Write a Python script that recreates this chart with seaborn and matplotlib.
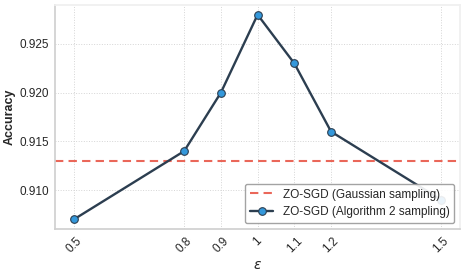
import matplotlib
matplotlib.use("Agg")
import matplotlib.pyplot as plt
import seaborn as sns
import pandas as pd

# data
eps = [0.5, 0.8, 0.9, 1.0, 1.1, 1.2, 1.5]
eps_labels = ["0.5", "0.8", "0.9", "1", "1.1", "1.2", "1.5"]
acc_alg2 = [0.907, 0.914, 0.920, 0.928, 0.923, 0.916, 0.909]
acc_gauss = 0.913

sns.set_theme(style="whitegrid")
plt.rcParams['font.family'] = ['Liberation Sans', 'DejaVu Sans']

df = pd.DataFrame({"eps": eps, "acc": acc_alg2})

fig, ax = plt.subplots(figsize=(4.65, 2.75), dpi=100)
fig.subplots_adjust(left=0.118, right=0.99, top=0.982, bottom=0.167)

ax.axhline(acc_gauss, color="#e74c3c", linestyle=(0, (4, 2.5)), linewidth=1.5, alpha=0.85,
           label="ZO-SGD (Gaussian sampling)")
sns.lineplot(data=df, x="eps", y="acc", ax=ax, color="#2c3e50", linewidth=1.7,
             marker="o", markersize=5.5, markerfacecolor="#3498db",
             markeredgecolor="#2c3e50", markeredgewidth=0.8,
             label="ZO-SGD (Algorithm 2 sampling)")

ax.set_xticks(eps)
ax.set_xticklabels(eps_labels, rotation=45, fontsize=8.5)
ax.tick_params(axis="y", labelsize=8.5, length=0, pad=4)
ax.tick_params(axis="x", length=0, pad=4)
ax.set_xlim(0.448, 1.552)
ax.set_ylim(0.906, 0.929)
ax.set_yticks([0.910, 0.915, 0.920, 0.925])
ax.set_xlabel(r"$\varepsilon$", fontsize=10, labelpad=2)
ax.set_ylabel("Accuracy", fontsize=9, fontweight="bold", labelpad=3)

ax.grid(True, linestyle=":", linewidth=0.7, color="#d5d5d5")
for s in ["top", "right"]:
    ax.spines[s].set_color("#f0f0f0")
for s in ["left", "bottom"]:
    ax.spines[s].set_color("#d0d0d0")

ax.legend(loc="lower right", fontsize=8.5, frameon=True, framealpha=0.9,
          edgecolor="#999999", fancybox=True)

plt.savefig("out.png", dpi=100)
